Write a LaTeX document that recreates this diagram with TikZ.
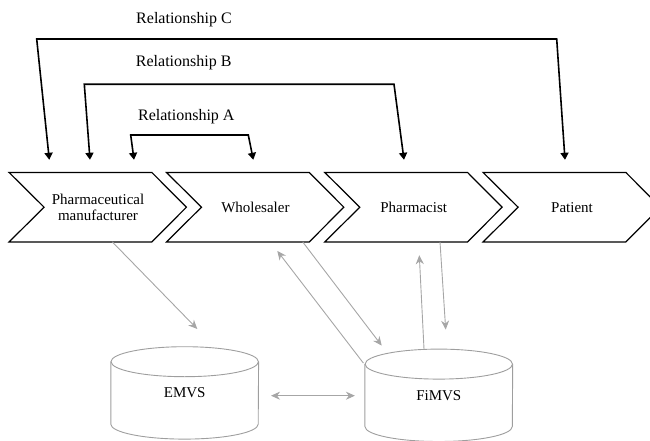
\documentclass[tikz,border=0pt]{standalone}
\usepackage{fontspec}
\setmainfont{Liberation Serif}
\usetikzlibrary{arrows.meta,calc}
\begin{document}
\begin{tikzpicture}[x=1pt,y=-1pt,
  chev/.style={minimum width=107.4pt,minimum height=69pt,inner sep=0pt,align=center,
    font=\fontsize{15}{16}\selectfont},
  chevline/.style={draw=black,line width=1.2pt,line join=miter},
  rellabel/.style={anchor=base,font=\fontsize{16}{18}\selectfont},
  rel/.style={draw=black,line width=1.6pt,line join=miter,
    {Triangle[length=7pt,width=8pt]}-{Triangle[length=7pt,width=8pt]}},
  db/.style={minimum width=147.4pt,minimum height=62pt,inner sep=0pt,
    font=\fontsize{15}{16}\selectfont},
  dbline/.style={draw=black!38,line width=0.9pt},
  gar/.style={draw=black!35,line width=0.9pt,-{Stealth[length=9pt,width=8pt]}},
  gboth/.style={draw=black!35,line width=0.9pt,{Stealth[length=9pt,width=8pt]}-{Stealth[length=9pt,width=8pt]}}
]
\useasboundingbox (0,0) rectangle (650,441);

% chevron nodes
\node[chev] (c1) at (98,207.2) {Pharmaceutical\\manufacturer};
\node[chev] (c2) at (255.4,207.2) {Wholesaler};
\node[chev] (c3) at (413.7,207.2) {Pharmacist};
\node[chev] (c4) at (572,207.2) {Patient};
\foreach \c in {c1,c2,c3,c4}{
  \draw[chevline] ([xshift=-35pt]\c.north west) -- (\c.north east) -- ([xshift=34.5pt]\c.east)
    -- (\c.south east) -- ([xshift=-35pt]\c.south west) -- (\c.west) -- cycle;
}

% relationship labels
\node[rellabel] (lc) at (184,23.3) {Relationship C};
\node[rellabel] (lb) at (183.7,66.7) {Relationship B};
\node[rellabel] (la) at (186.3,120.7) {Relationship A};

% relationship connectors
\draw[rel] ([xshift=-48.7pt,yshift=12.7pt]c1.north) -- (36.7,39) -- (556.7,39)
  -- ([xshift=-7pt,yshift=12.7pt]c4.north);
\draw[rel] ([xshift=-8pt,yshift=12.7pt]c1.north) -- (84.3,84.3) -- (394,84.3)
  -- ([xshift=-9.7pt,yshift=12.7pt]c3.north);
\draw[rel] ([xshift=36pt,yshift=12.7pt]c1.north) -- (130.7,135) -- (248.3,135)
  -- ([xshift=-2.1pt,yshift=12.7pt]c2.north);

% databases
\node[db] (emvs) at (184.7,392.9) {EMVS};
\node[db] (fimvs) at (438.8,395.3) {FiMVS};
\foreach \d in {emvs,fimvs}{
  \draw[dbline] (\d.north west) -- (\d.south west) arc[start angle=180,end angle=360,x radius=73.7,y radius=-15]
    -- (\d.north east);
  \draw[dbline] (\d.north) ellipse[x radius=73.7,y radius=15];
}

% gray connectors
\draw[gar] ([xshift=14.3pt]c1.south) -- ([xshift=12.6pt,yshift=32.7pt]emvs.north);
\draw[gar] ([xshift=-1.5pt,yshift=1pt]fimvs.north west) -- ([xshift=21.9pt,yshift=-9pt]c2.south);
\draw[gar] ([xshift=47.3pt]c2.south) -- ([xshift=-57.1pt,yshift=18.5pt]fimvs.north);
\draw[gar] ([xshift=-14.8pt,yshift=15pt]fimvs.north) -- ([xshift=5.6pt,yshift=-13.3pt]c3.south);
\draw[gar] ([xshift=26.3pt]c3.south) -- ([xshift=6.9pt,yshift=34.5pt]fimvs.north);
\draw[gboth] ([xshift=12.4pt,yshift=-2.8pt]emvs.east) -- ([xshift=-10pt,yshift=-0.4pt]fimvs.west);
\end{tikzpicture}
\end{document}
